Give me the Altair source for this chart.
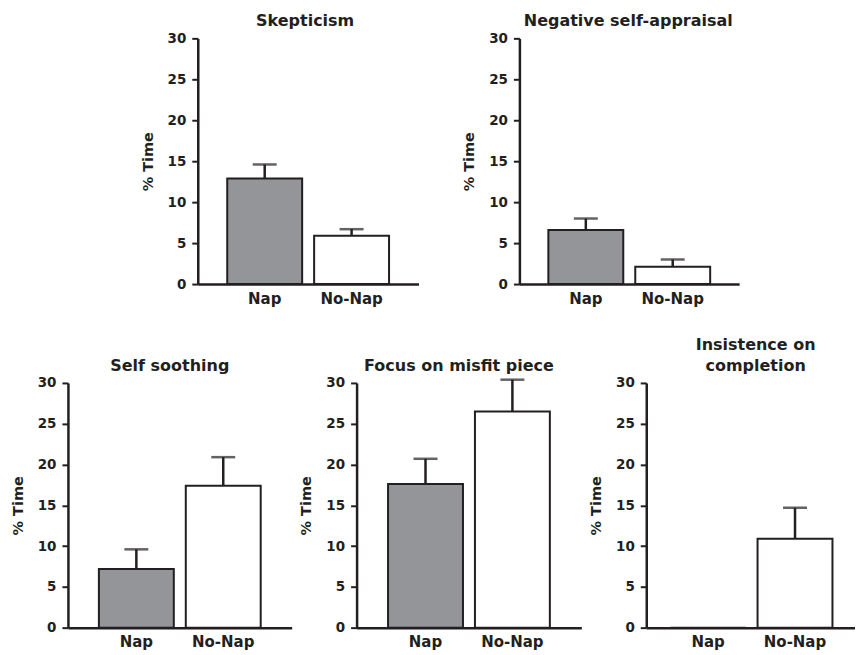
import altair as alt
import pandas as pd

# ---- data ----
panel_titles = [["Skepticism"], ["Negative self-appraisal"], ["Self soothing"],
                ["Focus on misfit piece"], ["Insistence on", "completion"]]
groups = ["Nap", "No-Nap"]
nap_mean = [12.9, 6.6, 7.2, 17.6, 0.0]
nap_upper = [14.6, 8.0, 9.6, 20.7, 0.0]
nonap_mean = [5.9, 2.1, 17.4, 26.5, 10.9]
nonap_upper = [6.7, 3.0, 20.9, 30.4, 14.7]
y_ticks = [0, 5, 10, 15, 20, 25, 30]
y_title = "% Time"

INK = "#231f20"
GRAY = "#939598"
FONT = "DejaVu Sans"


def panel(i, width, height, title_dx=0, align=0.5):
    df = pd.DataFrame({
        "group": groups,
        "mean": [nap_mean[i], nonap_mean[i]],
        "upper": [nap_upper[i], nonap_upper[i]],
    })
    po = (width - 162) / 174
    xs = alt.Scale(domain=groups, paddingInner=12 / 87, paddingOuter=po, align=align)
    xaxis = alt.Axis(title=None, labelAngle=0, ticks=False, labelPadding=7,
                     domainWidth=2.5, domainColor=INK, labelFont=FONT,
                     labelFontWeight="bold", labelFontSize=15, labelColor=INK,
                     grid=False)
    x = alt.X("group:N", scale=xs, sort=groups, axis=xaxis)
    ys = alt.Scale(domain=[0, 30], nice=False, zero=True)
    yaxis = alt.Axis(title=y_title, values=y_ticks, grid=False, tickSize=6,
                     tickWidth=2, tickColor=INK, domainWidth=2.5, domainColor=INK,
                     labelPadding=6, titlePadding=12, labelFont=FONT,
                     labelFontWeight="bold", labelFontSize=13.5, labelColor=INK,
                     titleFont=FONT, titleFontWeight="bold", titleFontSize=14.5,
                     titleColor=INK)
    base = alt.Chart(df)
    bars = base.mark_bar(stroke=INK, strokeWidth=2).encode(
        x=x,
        y=alt.Y("mean:Q", scale=ys, axis=yaxis),
        fill=alt.Fill("group:N", scale=alt.Scale(domain=groups, range=[GRAY, "white"]),
                      legend=None),
    )
    err = base.transform_filter("datum.upper > datum.mean").mark_rule(
        color=INK, strokeWidth=2.5).encode(
        x=x, y=alt.Y("mean:Q", scale=ys, axis=yaxis), y2="upper:Q")
    cap = base.transform_filter("datum.upper > datum.mean").mark_tick(
        color=INK, thickness=2.5, size=24).encode(
        x=x, y=alt.Y("upper:Q", scale=ys, axis=yaxis))
    return alt.layer(bars, err, cap).properties(
        width=width, height=height,
        title=alt.TitleParams(text=panel_titles[i], anchor="middle", frame="group",
                              font=FONT, fontWeight="bold", fontSize=16, color=INK,
                              offset=2, lineHeight=21, dx=title_dx),
    )


spacer = alt.Chart(pd.DataFrame({"s": [0]})).mark_point(opacity=0).encode(
    x=alt.X("s:Q", axis=None), y=alt.Y("s:Q", axis=None)
).properties(width=29, height=246)

top = alt.hconcat(spacer, panel(0, 221, 246, -3), panel(1, 220, 246, -1),
                  spacing=101, bounds="flush")
bottom = alt.hconcat(panel(2, 224, 245, -10), panel(3, 225, 245, -10),
                     panel(4, 209, 245, 5, align=0.52),
                     spacing=65, bounds="flush")

chart = alt.vconcat(top, bottom, spacing=31).properties(
    padding={"left": 2, "top": 5, "right": 0, "bottom": 5}
).configure_view(stroke=None).configure_concat(spacing=0)

chart.save("out.html", embed_options={"renderer": "svg", "actions": False})
